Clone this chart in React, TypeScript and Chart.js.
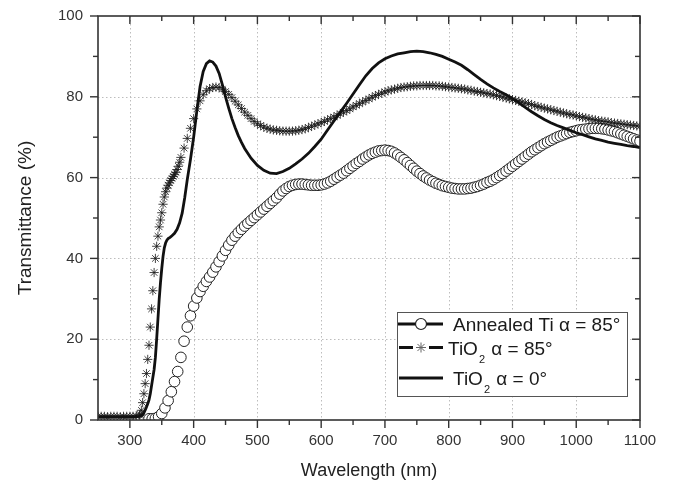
import React, { useEffect, useRef } from 'react';
import { Chart, registerables } from 'chart.js';

Chart.register(...registerables);

const FONT = '"Liberation Sans", Arial, Helvetica, sans-serif';

// ---- axis ticks ----
const xMajorTicks = [300, 400, 500, 600, 700, 800, 900, 1000, 1100];
const xMinorTicks = [350, 450, 550, 650, 750, 850, 950, 1050];
const yMajorTicks = [0, 20, 40, 60, 80, 100];
const yMinorTicks = [10, 30, 50, 70, 90];
const xGridLines = [300, 400, 500, 600, 700, 800, 900, 1000];
const yGridLines = [20, 40, 60, 80];

// ---- TiO2 alpha = 0° (solid line) ----
const wlTiO2Zero = [
  250, 270, 290, 300, 310, 315, 318, 320, 322, 325,
  328, 330, 332, 335, 338, 340, 342, 344, 346, 348,
  350, 352, 354, 356, 358, 360, 363, 366, 370, 374,
  378, 382, 386, 390, 395, 400, 405, 410, 415, 420,
  425, 430, 435, 440, 445, 450, 455, 460, 465, 470,
  475, 480, 490, 500, 510, 520, 530, 540, 550, 560,
  570, 580, 590, 600, 610, 620, 630, 640, 650, 660,
  670, 680, 690, 700, 710, 720, 730, 740, 750, 760,
  770, 780, 790, 800, 810, 820, 830, 840, 850, 860,
  870, 880, 890, 900, 910, 920, 930, 940, 950, 960,
  970, 980, 990, 1000, 1010, 1020, 1030, 1040, 1050, 1060,
  1070, 1080, 1090, 1100,
];
const tTiO2Zero = [
  0.8, 0.8, 0.8, 0.8, 0.8, 0.9, 1.0, 1.3, 1.8, 2.8,
  4.0, 5.0, 6.5, 9.5, 12.5, 15.5, 20.0, 25.0, 29.9, 34.0,
  37.5, 40.5, 42.6, 43.8, 44.5, 44.9, 45.2, 45.6, 46.2, 47.2,
  48.8, 51.2, 55.0, 59.5, 64.5, 70.0, 76.5, 82.5, 86.3, 88.2,
  88.9, 88.6, 87.6, 85.8, 83.0, 80.0, 77.2, 74.6, 72.4, 70.4,
  68.7, 67.2, 64.8, 63.0, 61.8, 61.1, 61.0, 61.5, 62.3, 63.4,
  64.6, 66.0, 67.7, 69.5, 71.8, 74.0, 76.2, 78.4, 80.7, 83.0,
  85.2, 87.0, 88.4, 89.4, 90.1, 90.6, 90.9, 91.2, 91.3, 91.2,
  90.9, 90.5, 90.0, 89.3, 88.6, 87.8, 86.7, 85.5, 84.3, 83.2,
  82.2, 81.3, 80.5, 79.6, 78.5, 77.4, 76.3, 75.3, 74.4, 73.6,
  72.9, 72.3, 71.7, 71.1, 70.6, 70.1, 69.6, 69.2, 68.8, 68.5,
  68.2, 67.9, 67.7, 67.4,
];

// ---- TiO2 alpha = 85° (asterisks) ----
const wlTiO2Tilt = [
  250, 255, 260, 265, 270, 275, 280, 285, 290, 295,
  300, 305, 310, 315,
  316, 318, 320, 322, 324, 326, 328, 330, 332, 334,
  336, 338, 340, 342, 344, 346, 348, 350, 352, 354,
  356, 358, 360, 362, 364, 366, 368, 370, 372, 374,
  376, 378, 380,
  385, 390, 395, 400, 405, 410, 415, 420, 425, 430,
  435, 440, 445, 450, 455, 460, 465, 470, 475, 480,
  485, 490, 495, 500, 505, 510, 515, 520, 525, 530,
  535, 540, 545, 550, 555, 560, 565, 570, 575, 580,
  585, 590, 595, 600, 605, 610, 615, 620, 625, 630,
  635, 640, 645, 650, 655, 660, 665, 670, 675, 680,
  685, 690, 695, 700, 705, 710, 715, 720, 725, 730,
  735, 740, 745, 750, 755, 760, 765, 770, 775, 780,
  785, 790, 795, 800, 805, 810, 815, 820, 825, 830,
  835, 840, 845, 850, 855, 860, 865, 870, 875, 880,
  885, 890, 895, 900, 905, 910, 915, 920, 925, 930,
  935, 940, 945, 950, 955, 960, 965, 970, 975, 980,
  985, 990, 995, 1000, 1005, 1010, 1015, 1020, 1025, 1030,
  1035, 1040, 1045, 1050, 1055, 1060, 1065, 1070, 1075, 1080,
  1085, 1090, 1095, 1100,
];
const tTiO2Tilt = [
  0.9, 0.9, 0.9, 0.8, 0.9, 0.9, 0.9, 0.8, 0.9, 0.9,
  0.9, 0.9, 1.0, 1.2,
  1.4, 2.4, 4.3, 6.5, 9.0, 11.5, 15.0, 18.5, 23.0, 27.5,
  32.0, 36.5, 40.0, 43.0, 45.5, 47.8, 49.5, 51.3, 53.4, 55.2,
  56.5, 57.4, 58.1, 58.7, 59.3, 59.8, 60.3, 60.8, 61.3, 62.0,
  62.8, 63.8, 65.0,
  67.3, 69.7, 72.2, 74.6, 77.0, 79.0, 80.5, 81.5, 82.0, 82.3,
  82.4, 82.3, 81.9, 81.3, 80.6, 79.8, 78.9, 78.0, 77.1, 76.2,
  75.4, 74.6, 73.9, 73.3, 72.9, 72.5, 72.2, 72.0, 71.8, 71.7,
  71.6, 71.5, 71.5, 71.5, 71.5, 71.6, 71.7, 71.9, 72.1, 72.4,
  72.7, 73.0, 73.3, 73.6, 73.9, 74.3, 74.6, 75.0, 75.4, 75.8,
  76.2, 76.6, 77.0, 77.5, 77.9, 78.3, 78.7, 79.1, 79.5, 79.9,
  80.3, 80.6, 80.9, 81.2, 81.5, 81.7, 81.9, 82.1, 82.3, 82.4,
  82.5, 82.6, 82.7, 82.7, 82.8, 82.8, 82.8, 82.8, 82.8, 82.7,
  82.7, 82.6, 82.5, 82.4, 82.3, 82.2, 82.1, 82.0, 81.9, 81.7,
  81.6, 81.4, 81.3, 81.1, 81.0, 80.8, 80.7, 80.5, 80.3, 80.1,
  79.9, 79.7, 79.5, 79.3, 79.1, 78.9, 78.7, 78.5, 78.3, 78.1,
  77.8, 77.6, 77.4, 77.2, 77.0, 76.8, 76.6, 76.4, 76.2, 76.0,
  75.8, 75.6, 75.5, 75.3, 75.1, 74.9, 74.8, 74.6, 74.4, 74.3,
  74.1, 74.0, 73.9, 73.8, 73.6, 73.5, 73.4, 73.3, 73.2, 73.1,
  73.0, 72.9, 72.8, 72.7,
];

// ---- Annealed Ti alpha = 85° (open circles) ----
const wlAnnealed = [
  330, 335, 340, 345, 350, 355, 360, 365, 370, 375,
  380, 385, 390, 395, 400, 405, 410, 415, 420, 425,
  430, 435, 440, 445, 450, 455, 460, 465, 470, 475,
  480, 485, 490, 495, 500, 505, 510, 515, 520, 525,
  530, 535, 540, 545, 550, 555, 560, 565, 570, 575,
  580, 585, 590, 595, 600, 605, 610, 615, 620, 625,
  630, 635, 640, 645, 650, 655, 660, 665, 670, 675,
  680, 685, 690, 695, 700, 705, 710, 715, 720, 725,
  730, 735, 740, 745, 750, 755, 760, 765, 770, 775,
  780, 785, 790, 795, 800, 805, 810, 815, 820, 825,
  830, 835, 840, 845, 850, 855, 860, 865, 870, 875,
  880, 885, 890, 895, 900, 905, 910, 915, 920, 925,
  930, 935, 940, 945, 950, 955, 960, 965, 970, 975,
  980, 985, 990, 995, 1000, 1005, 1010, 1015, 1020, 1025,
  1030, 1035, 1040, 1045, 1050, 1055, 1060, 1065, 1070, 1075,
  1080, 1085, 1090, 1095, 1100,
];
const tAnnealed = [
  0.3, 0.3, 0.4, 0.8, 1.6, 3.0, 4.8, 7.0, 9.5, 12.0,
  15.5, 19.5, 23.0, 25.8, 28.2, 30.2, 31.8, 33.1, 34.3, 35.4,
  36.6, 37.9, 39.2, 40.6, 42.0, 43.3, 44.5, 45.5, 46.4, 47.2,
  48.0, 48.7, 49.4, 50.1, 50.8, 51.5, 52.2, 52.9, 53.6, 54.3,
  55.0, 55.9, 56.7, 57.3, 57.8, 58.1, 58.3, 58.4, 58.4, 58.3,
  58.2, 58.1, 58.1, 58.1, 58.2, 58.4, 58.7, 59.1, 59.6, 60.1,
  60.6, 61.1, 61.7, 62.3, 62.9, 63.5, 64.0, 64.6, 65.1, 65.6,
  66.0, 66.3, 66.6, 66.7, 66.8, 66.7, 66.5, 66.1, 65.6, 65.0,
  64.4, 63.7, 63.0, 62.3, 61.6, 61.0, 60.4, 59.9, 59.4, 59.0,
  58.6, 58.3, 58.0, 57.8, 57.6, 57.4, 57.3, 57.2, 57.2, 57.2,
  57.3, 57.4, 57.6, 57.8, 58.1, 58.4, 58.8, 59.1, 59.5, 60.0,
  60.5, 61.0, 61.6, 62.2, 62.8, 63.4, 64.0, 64.6, 65.2, 65.8,
  66.4, 66.9, 67.4, 67.9, 68.4, 68.8, 69.2, 69.6, 70.0, 70.3,
  70.6, 70.9, 71.2, 71.4, 71.6, 71.8, 71.9, 72.0, 72.1, 72.2,
  72.2, 72.2, 72.1, 72.0, 71.8, 71.6, 71.4, 71.1, 70.8, 70.5,
  70.2, 69.9, 69.6, 69.3, 69.0,
];

const zip = (xs: number[], ys: number[]) => xs.map((x, i) => ({ x, y: ys[i] }));

const frameColor = '#333';

const framePlugin = {
  id: 'originFrame',
  beforeDatasetsDraw(chart: any) {
    const { ctx, chartArea } = chart;
    const xs = chart.scales.x;
    const ys = chart.scales.y;
    ctx.save();
    ctx.strokeStyle = '#bdbdbd';
    ctx.lineWidth = 1;
    ctx.setLineDash([1.5, 2.5]);
    xGridLines.forEach((v) => {
      const px = Math.round(xs.getPixelForValue(v)) + 0.5;
      ctx.beginPath();
      ctx.moveTo(px, chartArea.top);
      ctx.lineTo(px, chartArea.bottom);
      ctx.stroke();
    });
    yGridLines.forEach((v) => {
      const py = Math.round(ys.getPixelForValue(v)) + 0.5;
      ctx.beginPath();
      ctx.moveTo(chartArea.left, py);
      ctx.lineTo(chartArea.right, py);
      ctx.stroke();
    });
    ctx.restore();
  },
  afterDatasetsDraw(chart: any) {
    const { ctx, chartArea } = chart;
    const { left, right, top, bottom } = chartArea;
    const xs = chart.scales.x;
    const ys = chart.scales.y;
    ctx.save();
    ctx.strokeStyle = frameColor;
    ctx.lineWidth = 1.6;
    ctx.strokeRect(left, top, right - left, bottom - top);
    const tick = (x1: number, y1: number, x2: number, y2: number) => {
      ctx.beginPath();
      ctx.moveTo(x1, y1);
      ctx.lineTo(x2, y2);
      ctx.stroke();
    };
    ctx.lineWidth = 1.4;
    const MAJ = 8;
    const MIN = 5;
    xMajorTicks.forEach((v) => {
      const px = xs.getPixelForValue(v);
      tick(px, bottom, px, bottom + MAJ);
      tick(px, top, px, top + MAJ);
    });
    xMinorTicks.forEach((v) => {
      const px = xs.getPixelForValue(v);
      tick(px, bottom, px, bottom + MIN);
      tick(px, top, px, top + MIN);
    });
    yMajorTicks.forEach((v) => {
      const py = ys.getPixelForValue(v);
      tick(left - MAJ, py, left, py);
      tick(right - MAJ, py, right, py);
    });
    yMinorTicks.forEach((v) => {
      const py = ys.getPixelForValue(v);
      tick(left - MIN, py, left, py);
      tick(right - MIN, py, right, py);
    });
    ctx.restore();
  },
};

const legendPlugin = {
  id: 'originLegend',
  afterDraw(chart: any) {
    const { ctx, chartArea } = chart;
    const bx = chartArea.right - 243;
    const by = chartArea.bottom - 108;
    const bw = 230;
    const bh = 84;
    ctx.save();
    ctx.fillStyle = '#fff';
    ctx.fillRect(bx, by, bw, bh);
    ctx.strokeStyle = '#555';
    ctx.lineWidth = 1;
    ctx.strokeRect(bx + 0.5, by + 0.5, bw, bh);

    const sx0 = bx + 1;
    const sx1 = bx + 46;
    const cx = bx + 24;
    const rows = [by + 12, by + 35.5, by + 66];

    ctx.strokeStyle = '#111';
    ctx.lineWidth = 3;
    // row 1: line + circle
    ctx.beginPath();
    ctx.moveTo(sx0, rows[0]);
    ctx.lineTo(sx1, rows[0]);
    ctx.stroke();
    ctx.beginPath();
    ctx.arc(cx, rows[0], 5.5, 0, Math.PI * 2);
    ctx.fillStyle = '#fff';
    ctx.fill();
    ctx.lineWidth = 1.2;
    ctx.strokeStyle = '#222';
    ctx.stroke();
    // row 2: dashes + asterisk
    ctx.strokeStyle = '#111';
    ctx.lineWidth = 3;
    ctx.beginPath();
    ctx.moveTo(sx0 + 1, rows[1]);
    ctx.lineTo(cx - 8, rows[1]);
    ctx.moveTo(cx + 8, rows[1]);
    ctx.lineTo(sx1, rows[1]);
    ctx.stroke();
    ctx.strokeStyle = '#666';
    ctx.lineWidth = 1;
    for (let k = 0; k < 4; k++) {
      const a = (k * Math.PI) / 4;
      ctx.beginPath();
      ctx.moveTo(cx - 5 * Math.cos(a), rows[1] - 5 * Math.sin(a));
      ctx.lineTo(cx + 5 * Math.cos(a), rows[1] + 5 * Math.sin(a));
      ctx.stroke();
    }
    // row 3: solid line
    ctx.strokeStyle = '#111';
    ctx.lineWidth = 3;
    ctx.beginPath();
    ctx.moveTo(sx0 + 1, rows[2]);
    ctx.lineTo(sx1, rows[2]);
    ctx.stroke();

    // texts
    ctx.fillStyle = '#1a1a1a';
    ctx.textBaseline = 'alphabetic';
    ctx.textAlign = 'left';
    const big = `19px ${FONT}`;
    const small = `11px ${FONT}`;
    ctx.font = big;
    ctx.fillText('Annealed Ti \u03b1 = 85\u00b0', bx + 56, rows[0] + 7);

    const drawTiO2 = (x: number, yb: number, rest: string) => {
      ctx.font = big;
      ctx.fillText('TiO', x, yb);
      const w = ctx.measureText('TiO').width;
      ctx.font = small;
      ctx.fillText('2', x + w + 1, yb + 8);
      const w2 = ctx.measureText('2').width;
      ctx.font = big;
      ctx.fillText(rest, x + w + w2 + 2, yb);
    };
    drawTiO2(bx + 51, rows[1] + 7, ' \u03b1 = 85\u00b0');
    drawTiO2(bx + 56, rows[2] + 7, ' \u03b1 = 0\u00b0');
    ctx.restore();
  },
};

export default function App() {
  const canvasRef = useRef<HTMLCanvasElement>(null);

  useEffect(() => {
    const canvas = canvasRef.current;
    if (!canvas) return;
    const chart = new Chart(canvas, {
      type: 'scatter',
      data: {
        datasets: [
          {
            label: 'TiO2 \u03b1 = 0\u00b0',
            data: zip(wlTiO2Zero, tTiO2Zero),
            showLine: true,
            borderColor: '#111',
            backgroundColor: '#111',
            borderWidth: 2.8,
            pointRadius: 0,
            tension: 0,
            order: 0,
            clip: 0,
          },
          {
            label: 'TiO2 \u03b1 = 85\u00b0',
            data: zip(wlTiO2Tilt, tTiO2Tilt),
            showLine: false,
            pointStyle: 'star',
            pointRadius: 4.6,
            pointBorderWidth: 1,
            borderColor: 'rgba(22,22,22,0.8)',
            backgroundColor: 'rgba(22,22,22,0.8)',
            order: 1,
            clip: 0,
          },
          {
            label: 'Annealed Ti \u03b1 = 85\u00b0',
            data: zip(wlAnnealed, tAnnealed),
            showLine: false,
            pointStyle: 'circle',
            pointRadius: 5.3,
            pointBorderWidth: 1,
            borderColor: '#222',
            backgroundColor: '#fff',
            order: 2,
            clip: 0,
          },
        ],
      } as any,
      options: {
        responsive: true,
        maintainAspectRatio: false,
        animation: false,
        events: [],
        layout: { padding: { left: 0, top: 16, right: 36, bottom: 0 } },
        plugins: {
          legend: { display: false },
          tooltip: { enabled: false },
        },
        scales: {
          x: {
            type: 'linear',
            position: 'bottom',
            min: 250,
            max: 1100,
            afterBuildTicks: (s: any) => {
              s.ticks = xMajorTicks.map((v) => ({ value: v }));
            },
            afterFit: (s: any) => {
              s.height = 65;
            },
            ticks: {
              autoSkip: false,
              maxRotation: 0,
              padding: 4,
              color: '#333',
              font: { family: FONT, size: 15 },
              callback: (v: any) => String(v),
            },
            grid: { display: true, drawOnChartArea: false, drawTicks: true, tickLength: 8, color: 'rgba(0,0,0,0)' },
            border: { display: false },
            title: {
              display: true,
              text: 'Wavelength (nm)',
              color: '#222',
              font: { family: FONT, size: 18 },
              padding: { top: 0, bottom: 3 },
            },
          },
          y: {
            type: 'linear',
            min: 0,
            max: 100,
            afterBuildTicks: (s: any) => {
              s.ticks = yMajorTicks.map((v) => ({ value: v }));
            },
            afterFit: (s: any) => {
              s.width = 98;
            },
            ticks: {
              padding: 7,
              color: '#333',
              font: { family: FONT, size: 15 },
              callback: (v: any) => String(v),
            },
            grid: { display: true, drawOnChartArea: false, drawTicks: true, tickLength: 8, color: 'rgba(0,0,0,0)' },
            border: { display: false },
            title: {
              display: true,
              text: 'Transmittance (%)',
              color: '#222',
              font: { family: FONT, size: 19 },
              padding: { top: 14, bottom: 0 },
            },
          },
        },
      } as any,
      plugins: [framePlugin, legendPlugin],
    });
    return () => chart.destroy();
  }, []);

  return (
    <div style={{ position: 'absolute', left: 0, top: 0, width: 676, height: 485, background: '#fff' }}>
      <canvas ref={canvasRef} />
    </div>
  );
}
